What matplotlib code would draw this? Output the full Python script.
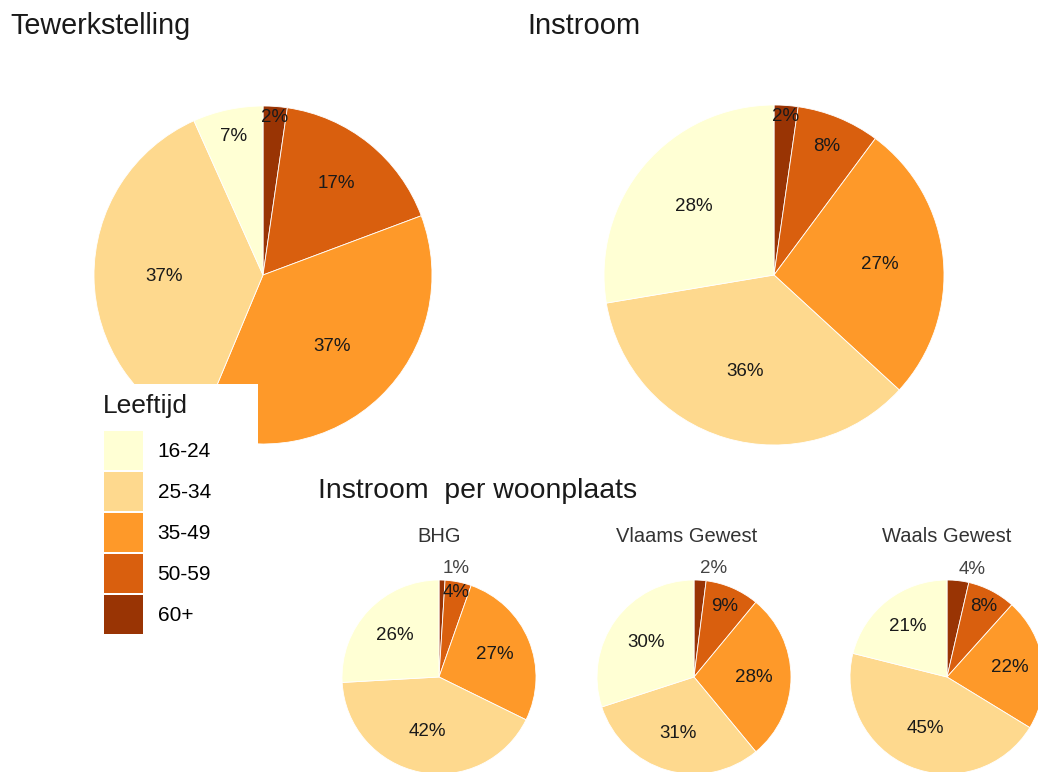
import numpy as np
import matplotlib
matplotlib.use("Agg")
import matplotlib.pyplot as plt
from matplotlib.patches import Patch, Rectangle

plt.rcParams['font.family'] = ['Liberation Sans', 'DejaVu Sans']

W, H = 1038, 772

# leeftijdsklassen en kleuren (YlOrBr)
leeftijd = ["16-24", "25-34", "35-49", "50-59", "60+"]
kleuren = ["#ffffd4", "#fed98e", "#fe9929", "#d95f0e", "#993404"]

# aandeel per leeftijdsklasse (%)
tewerkstelling = [6.7, 37, 37, 17, 2.3]
instroom = [28, 36, 27, 8, 2.3]
bhg = [26, 42, 27, 4.4, 1]
vlaams = [30, 31, 28, 9, 2]
waals = [21, 45, 22, 8, 3.6]

regio_namen = ["BHG", "Vlaams Gewest", "Waals Gewest"]
regio_data = [bhg, vlaams, waals]


def px_axes(cx, cy, r):
    return fig.add_axes([(cx - r) / W, (H - cy - r) / H, 2 * r / W, 2 * r / H])


def taart(ax, waarden, rel):
    vals = waarden[::-1]
    cols = kleuren[::-1]
    ax.pie(vals, colors=cols, startangle=90, counterclock=False, radius=1,
           wedgeprops=dict(linewidth=0.6, edgecolor="white"))
    ax.set_xlim(-1, 1)
    ax.set_ylim(-1, 1)
    ax.axis("off")
    totaal = sum(vals)
    cum = 0
    for v in vals:
        p = v / totaal
        mid = (cum + p / 2) * 2 * np.pi
        cum += p
        lab = "%d%%" % round(v)
        if p * rel < 0.022:
            # te smal: label buiten de taart
            ax.text(1.03 * np.sin(mid), 1.03 * np.cos(mid), lab, ha="left", va="bottom",
                    fontsize=13.5, color="#444444")
        else:
            r = 0.55 + 0.45 * np.exp(-p / 0.15)
            ax.text(r * np.sin(mid), r * np.cos(mid), lab, ha="center", va="center",
                    fontsize=13.5, color="#1a1a1a")


fig = plt.figure(figsize=(W / 100, H / 100), dpi=100)

R_big = 169
taart(px_axes(263, 275, R_big), tewerkstelling, 1.0)
taart(px_axes(774, 275, 170), instroom, 170 / R_big)

R_small = 97
for naam, data, cx, tx in zip(regio_namen, regio_data, [439, 694, 947], [439, 687, 947]):
    taart(px_axes(cx, 677, R_small), data, R_small / R_big)
    fig.text(tx / W, 1 - 537 / H, naam, ha="center", va="center", fontsize=14.5, color="#333333")

fig.text(10 / W, 1 - 26 / H, "Tewerkstelling", ha="left", va="center", fontsize=20.7, color="#1a1a1a")
fig.text(584 / W, 1 - 26 / H, "Instroom", ha="center", va="center", fontsize=21, color="#1a1a1a")
fig.text(318 / W, 1 - 491 / H, "Instroom  per woonplaats", ha="left", va="center", fontsize=20.4, color="#1a1a1a")

# witte achtergrond van de legende
fig.add_artist(Rectangle((84 / W, 1 - 772 / H), (258 - 84) / W, (772 - 384) / H,
                         transform=fig.transFigure, facecolor="white", edgecolor="none", zorder=2))

handles = [Patch(facecolor=c, edgecolor="none") for c in kleuren]
leg = fig.legend(handles, leeftijd, loc="upper left",
                 bbox_to_anchor=(104 / W, 1 - 431 / H), frameon=False, borderpad=0,
                 fontsize=15, handlelength=1.87, handleheight=2.5, handletextpad=0.7,
                 labelspacing=0.1, borderaxespad=0)
leg.set_zorder(3)
fig.text(103 / W, 1 - 406 / H, "Leeftijd", ha="left", va="center", fontsize=19,
         color="#1a1a1a", zorder=3)

fig.savefig("out.png", dpi=100, facecolor="white")
